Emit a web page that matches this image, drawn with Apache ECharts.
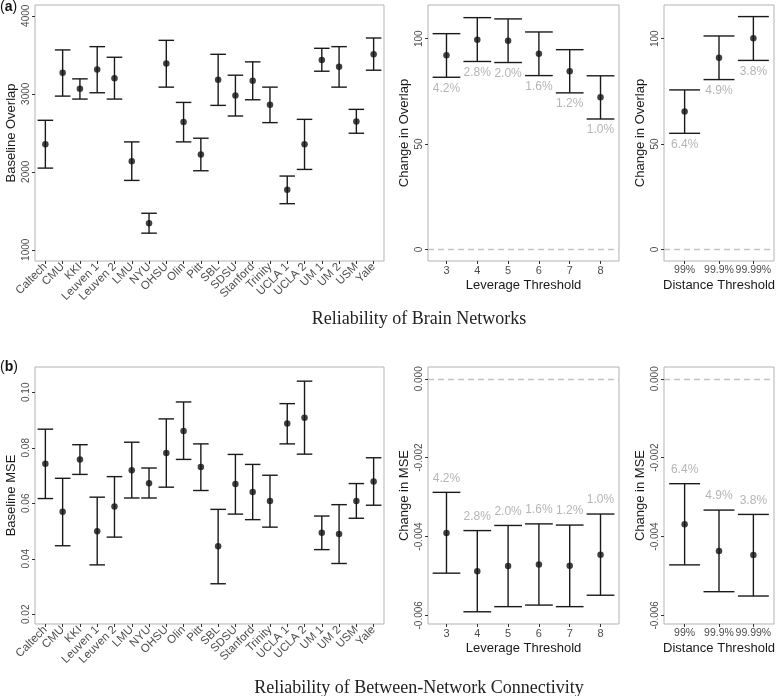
<!DOCTYPE html>
<html>
<head>
<meta charset="utf-8">
<script src="https://cdn.jsdelivr.net/npm/echarts@6/dist/echarts.min.js"></script>
<style>html,body{margin:0;padding:0;background:#fff;}#c{width:777px;height:696px;}</style>
</head>
<body>
<div id="c"></div>
<script>
// ---------- data ----------
const sites = ['Caltech','CMU','KKI','Leuven 1','Leuven 2','LMU','NYU','OHSU','Olin','Pitt','SBL','SDSU','Stanford','Trinity','UCLA 1','UCLA 2','UM 1','UM 2','USM','Yale'];
const overlapMean = [2353,3268,3064,3311,3200,2136,1340,3387,2638,2221,3179,2979,3166,2860,1770,2353,3434,3345,2643,3506];
const overlapLow  = [2047,2970,2932,3013,2932,1889,1213,3085,2383,2013,2851,2715,2923,2630,1591,2030,3289,3085,2494,3302];
const overlapHigh = [2660,3562,3191,3604,3468,2383,1468,3685,2889,2430,3506,3238,3409,3085,1945,2672,3583,3604,2800,3715];
const overlapTicks = [1000,2000,3000,4000];

const leverage = ['3','4','5','6','7','8'];
const levOverlapMean = [92.1,99.5,99.0,92.9,84.6,72.2];
const levOverlapLow  = [81.7,89.2,88.7,82.5,74.3,61.9];
const levOverlapHigh = [102.4,110.0,109.4,103.2,94.8,82.4];
const levPct = ['4.2%','2.8%','2.0%','1.6%','1.2%','1.0%'];

const distance = ['99%','99.9%','99.99%'];
const distOverlapMean = [65.4,91.0,100.2];
const distOverlapLow  = [55.1,80.6,89.7];
const distOverlapHigh = [75.7,101.3,110.5];
const distPct = ['6.4%','4.9%','3.8%'];
const changeOverlapTicks = [0,50,100];

const mseMean = [0.0742,0.0569,0.0758,0.0499,0.0588,0.0719,0.0672,0.0781,0.0860,0.0731,0.0445,0.0669,0.0641,0.0608,0.0887,0.0908,0.0494,0.0489,0.0608,0.0678];
const mseLow  = [0.0617,0.0447,0.0704,0.0378,0.0478,0.0619,0.0619,0.0658,0.0758,0.0646,0.0310,0.0561,0.0541,0.0514,0.0814,0.0777,0.0433,0.0383,0.0546,0.0593];
const mseHigh = [0.0867,0.0690,0.0811,0.0622,0.0696,0.0820,0.0727,0.0904,0.0965,0.0814,0.0578,0.0776,0.0740,0.0701,0.0959,0.1040,0.0554,0.0595,0.0671,0.0764];
const mseTicks = [0.02,0.04,0.06,0.08,0.10];

const levMseMean = [-0.00391,-0.00488,-0.00475,-0.00471,-0.00474,-0.00446];
const levMseLow  = [-0.00493,-0.00591,-0.00578,-0.00574,-0.00578,-0.00549];
const levMseHigh = [-0.00288,-0.00385,-0.00372,-0.00368,-0.00371,-0.00343];
const distMseMean = [-0.00369,-0.00437,-0.00447];
const distMseLow  = [-0.00472,-0.00540,-0.00551];
const distMseHigh = [-0.00266,-0.00333,-0.00344];
const changeMseTicks = [-0.006,-0.004,-0.002,0];

// ---------- styling helpers ----------
const SANS = 'Liberation Sans, Arial, sans-serif';
const SERIF = 'Liberation Serif, Times New Roman, serif';
const BAR = '#1a1a1a';
const BORDER = '#b3b3b3';
const LBL = '#b5b5b5';

const panels = [
  {cats: sites, mean: overlapMean, low: overlapLow, high: overlapHigh, yMin: 856, yMax: 4138, yTicks: overlapTicks, yFmt: v => String(Math.round(v)), yName: 'Baseline Overlap', xName: '', rot: 45, xfs: 11.5, grid: {left: 35, top: 5, width: 349, height: 256}, pct: null, zero: false},
  {cats: leverage, mean: levOverlapMean, low: levOverlapLow, high: levOverlapHigh, yMin: -5.5, yMax: 116, yTicks: changeOverlapTicks, yFmt: v => String(Math.round(v)), yName: 'Change in Overlap', xName: 'Leverage Threshold', rot: 0, xfs: 11, grid: {left: 428, top: 5, width: 191, height: 256}, pct: levPct, pctBelow: true, zero: true},
  {cats: distance, mean: distOverlapMean, low: distOverlapLow, high: distOverlapHigh, yMin: -5.5, yMax: 116, yTicks: changeOverlapTicks, yFmt: v => String(Math.round(v)), yName: 'Change in Overlap', xName: 'Distance Threshold', rot: 0, xfs: 10.5, grid: {left: 664, top: 5, width: 112, height: 256}, pct: distPct, pctBelow: true, zero: true},
  {cats: sites, mean: mseMean, low: mseLow, high: mseHigh, yMin: 0.0165, yMax: 0.1091, yTicks: mseTicks, yFmt: v => v.toFixed(2), yName: 'Baseline MSE', xName: '', rot: 45, xfs: 11.5, grid: {left: 35, top: 367, width: 349, height: 257}, pct: null, zero: false},
  {cats: leverage, mean: levMseMean, low: levMseLow, high: levMseHigh, yMin: -0.00622, yMax: 0.0003, yTicks: changeMseTicks, yFmt: v => v.toFixed(3), yName: 'Change in MSE', xName: 'Leverage Threshold', rot: 0, xfs: 11, grid: {left: 428, top: 367, width: 191, height: 257}, pct: levPct, pctBelow: false, zero: true},
  {cats: distance, mean: distMseMean, low: distMseLow, high: distMseHigh, yMin: -0.00622, yMax: 0.0003, yTicks: changeMseTicks, yFmt: v => v.toFixed(3), yName: 'Change in MSE', xName: 'Distance Threshold', rot: 0, xfs: 10.5, grid: {left: 664, top: 367, width: 112, height: 257}, pct: distPct, pctBelow: false, zero: true}
];

const grids = [], xAxes = [], yAxes = [], series = [];
panels.forEach((p, k) => {
  grids.push(Object.assign({show: true, borderColor: BORDER, borderWidth: 1, backgroundColor: '#fff'}, p.grid));
  const idx = p.cats.map((c, i) => i);
  xAxes.push({
    type: 'value', gridIndex: k, min: -0.6, max: p.cats.length - 0.4, position: 'bottom',
    axisLine: {show: false, onZero: false}, splitLine: {show: false},
    axisTick: {show: true, length: 3, customValues: idx, lineStyle: {color: '#333', width: 1}},
    axisLabel: {show: true, customValues: idx, rotate: p.rot, margin: 4, hideOverlap: false, fontFamily: SANS, fontSize: p.xfs, color: '#4d4d4d', formatter: v => p.cats[Math.round(v)]},
    name: p.xName, nameLocation: 'middle', nameGap: 18, nameTextStyle: {fontFamily: SANS, fontSize: 13, color: '#1a1a1a'}
  });
  yAxes.push({
    type: 'value', gridIndex: k, min: p.yMin, max: p.yMax, position: 'left',
    axisLine: {show: false, onZero: false}, splitLine: {show: false},
    axisTick: {show: true, length: 3, customValues: p.yTicks, lineStyle: {color: '#333', width: 1}},
    axisLabel: {show: true, customValues: p.yTicks, rotate: 90, margin: 4, fontFamily: SANS, fontSize: 10, color: '#4d4d4d', formatter: p.yFmt},
    name: p.yName, nameLocation: 'middle', nameGap: 17, nameTextStyle: {fontFamily: SANS, fontSize: 13, color: '#1a1a1a'}
  });
  const errData = idx.map(i => [i, p.low[i], p.high[i]]);
  series.push({
    type: 'custom', xAxisIndex: k, yAxisIndex: k, clip: false, silent: true,
    data: errData,
    renderItem: (params, api) => {
      const x = api.value(0), lo = api.value(1), hi = api.value(2);
      const a = api.coord([x, lo]), b = api.coord([x, hi]);
      const half = api.size([0.9, 0])[0] / 2;
      const st = {stroke: BAR, lineWidth: 1.4};
      const ch = [
        {type: 'line', shape: {x1: a[0], y1: a[1], x2: b[0], y2: b[1]}, style: st},
        {type: 'line', shape: {x1: a[0] - half, y1: a[1], x2: a[0] + half, y2: a[1]}, style: st},
        {type: 'line', shape: {x1: b[0] - half, y1: b[1], x2: b[0] + half, y2: b[1]}, style: st}
      ];
      if (p.pct) {
        const t = p.pct[params.dataIndex];
        ch.push({type: 'text', style: {text: t, x: a[0], y: p.pctBelow ? a[1] + 11 : b[1] - 14, fill: LBL, font: '12px ' + SANS, align: 'center', verticalAlign: 'middle'}});
      }
      return {type: 'group', children: ch};
    }
  });
  const sc = {
    type: 'scatter', xAxisIndex: k, yAxisIndex: k, silent: true,
    symbol: 'circle', symbolSize: 6.5, itemStyle: {color: '#111'}, z: 5,
    data: idx.map(i => [i, p.mean[i]])
  };
  if (p.zero) {
    sc.markLine = {silent: true, symbol: 'none', label: {show: false}, lineStyle: {color: '#c4c4c4', type: [6, 4], width: 1.3}, data: [{yAxis: 0}]};
  }
  series.push(sc);
});

const chart = echarts.init(document.getElementById('c'), null, {renderer: 'canvas'});
chart.setOption({
  animation: false,
  backgroundColor: '#fff',
  grid: grids, xAxis: xAxes, yAxis: yAxes, series: series,
  graphic: [
    {type: 'text', left: 0, top: 0, style: {text: '({b|a})', font: '14px ' + SANS, fill: '#111', rich: {b: {fontWeight: 'bold', fontSize: 14, fontFamily: SANS}}}},
    {type: 'text', left: 0, top: 360, style: {text: '({b|b})', font: '14px ' + SANS, fill: '#111', rich: {b: {fontWeight: 'bold', fontSize: 14, fontFamily: SANS}}}},
    {type: 'text', x: 419, y: 319, style: {text: 'Reliability of Brain Networks', font: '18px ' + SERIF, fill: '#222', align: 'center', verticalAlign: 'middle'}},
    {type: 'text', x: 419, y: 688, style: {text: 'Reliability of Between-Network Connectivity', font: '18px ' + SERIF, fill: '#222', align: 'center', verticalAlign: 'middle'}}
  ]
});
</script>
</body>
</html>
